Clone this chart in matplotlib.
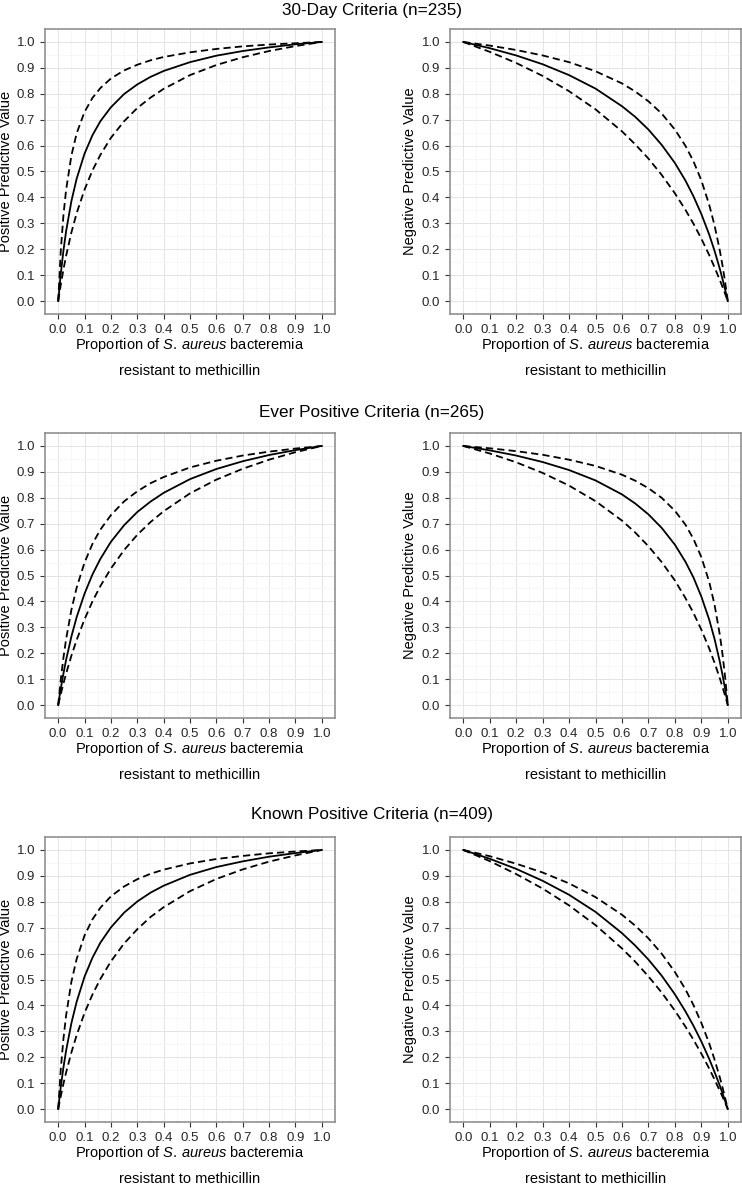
import matplotlib.pyplot as plt

plt.rcParams['font.family'] = ['Liberation Sans', 'DejaVu Sans']
plt.rcParams['mathtext.fontset'] = 'custom'
plt.rcParams['mathtext.rm'] = 'Liberation Sans'
plt.rcParams['mathtext.it'] = 'Liberation Sans:italic'

# proportion resistant (x) at which the curves were read
ppv_x = [0, 0.01, 0.02, 0.03, 0.05, 0.07, 0.1, 0.13, 0.16, 0.2,
         0.25, 0.3, 0.35, 0.4, 0.5, 0.6, 0.7, 0.8, 0.9, 1.0]
npv_x = [0, 0.1, 0.2, 0.3, 0.4, 0.5, 0.6, 0.65, 0.7, 0.75,
         0.8, 0.84, 0.87, 0.9, 0.93, 0.95, 0.97, 0.98, 0.99, 1.0]

# 30-day criteria (n=235)
day30_ppv = [0, 0.107, 0.195, 0.269, 0.385, 0.472, 0.569, 0.640, 0.694, 0.748,
             0.799, 0.836, 0.865, 0.888, 0.922, 0.947, 0.965, 0.979, 0.991, 1.0]
day30_ppv_hi = [0, 0.197, 0.332, 0.429, 0.561, 0.647, 0.730, 0.784, 0.822, 0.859,
                0.890, 0.912, 0.929, 0.942, 0.960, 0.973, 0.983, 0.990, 0.995, 1.0]
day30_ppv_lo = [0, 0.064, 0.122, 0.174, 0.264, 0.339, 0.430, 0.504, 0.564, 0.630,
                0.694, 0.745, 0.785, 0.819, 0.872, 0.911, 0.941, 0.965, 0.984, 1.0]
day30_npv = [1.0, 0.976, 0.948, 0.914, 0.872, 0.820, 0.752, 0.711, 0.662, 0.603,
             0.533, 0.465, 0.405, 0.336, 0.256, 0.194, 0.124, 0.085, 0.044, 0]
day30_npv_hi = [1.0, 0.986, 0.969, 0.948, 0.922, 0.887, 0.840, 0.809, 0.771, 0.724,
                0.662, 0.599, 0.540, 0.466, 0.371, 0.292, 0.195, 0.138, 0.073, 0]
day30_npv_lo = [1.0, 0.962, 0.919, 0.869, 0.810, 0.740, 0.655, 0.605, 0.550, 0.487,
                0.416, 0.352, 0.299, 0.241, 0.177, 0.130, 0.081, 0.055, 0.028, 0]

# ever positive criteria (n=265)
ever_ppv = [0, 0.064, 0.122, 0.174, 0.264, 0.339, 0.430, 0.504, 0.564, 0.630,
            0.694, 0.745, 0.785, 0.819, 0.872, 0.911, 0.941, 0.965, 0.984, 1.0]
ever_ppv_hi = [0, 0.100, 0.183, 0.254, 0.367, 0.453, 0.550, 0.622, 0.677, 0.733,
               0.786, 0.825, 0.856, 0.880, 0.917, 0.943, 0.963, 0.978, 0.990, 1.0]
ever_ppv_lo = [0, 0.043, 0.083, 0.121, 0.190, 0.251, 0.331, 0.400, 0.459, 0.527,
               0.598, 0.657, 0.706, 0.748, 0.817, 0.870, 0.912, 0.947, 0.976, 1.0]
ever_npv = [1.0, 0.983, 0.963, 0.938, 0.907, 0.867, 0.813, 0.778, 0.736, 0.684,
            0.619, 0.553, 0.493, 0.419, 0.329, 0.255, 0.167, 0.117, 0.062, 0]
ever_npv_hi = [1.0, 0.991, 0.980, 0.966, 0.947, 0.923, 0.889, 0.866, 0.837, 0.800,
               0.750, 0.696, 0.642, 0.571, 0.475, 0.387, 0.271, 0.197, 0.108, 0]
ever_npv_lo = [1.0, 0.971, 0.937, 0.896, 0.847, 0.787, 0.712, 0.666, 0.613, 0.552,
               0.481, 0.413, 0.356, 0.291, 0.218, 0.163, 0.103, 0.070, 0.036, 0]

# known positive criteria (n=409)
known_ppv = [0, 0.087, 0.161, 0.225, 0.331, 0.414, 0.511, 0.584, 0.642, 0.701,
             0.758, 0.801, 0.835, 0.862, 0.904, 0.934, 0.956, 0.974, 0.988, 1.0]
known_ppv_hi = [0, 0.156, 0.272, 0.361, 0.491, 0.579, 0.670, 0.732, 0.777, 0.821,
                0.859, 0.887, 0.908, 0.924, 0.948, 0.965, 0.977, 0.987, 0.994, 1.0]
known_ppv_lo = [0, 0.051, 0.098, 0.141, 0.218, 0.285, 0.371, 0.442, 0.502, 0.570,
                0.639, 0.694, 0.741, 0.779, 0.841, 0.888, 0.925, 0.955, 0.979, 1.0]
known_npv = [1.0, 0.966, 0.927, 0.881, 0.827, 0.761, 0.679, 0.631, 0.577, 0.515,
             0.443, 0.377, 0.322, 0.261, 0.193, 0.143, 0.090, 0.061, 0.031, 0]
known_npv_hi = [1.0, 0.976, 0.947, 0.913, 0.871, 0.818, 0.750, 0.708, 0.659, 0.600,
                0.529, 0.462, 0.402, 0.333, 0.253, 0.191, 0.122, 0.084, 0.043, 0]
known_npv_lo = [1.0, 0.957, 0.907, 0.851, 0.786, 0.710, 0.620, 0.569, 0.512, 0.450,
                0.380, 0.318, 0.268, 0.214, 0.156, 0.114, 0.070, 0.048, 0.024, 0]

titles = ['30-Day Criteria (n=235)', 'Ever Positive Criteria (n=265)',
          'Known Positive Criteria (n=409)']
ppv_sets = [(day30_ppv, day30_ppv_hi, day30_ppv_lo),
            (ever_ppv, ever_ppv_hi, ever_ppv_lo),
            (known_ppv, known_ppv_hi, known_ppv_lo)]
npv_sets = [(day30_npv, day30_npv_hi, day30_npv_lo),
            (ever_npv, ever_npv_hi, ever_npv_lo),
            (known_npv, known_npv_hi, known_npv_lo)]

W, H = 742, 1184
fig = plt.figure(figsize=(W / 100, H / 100), dpi=100)

# pixel layout of the rows: (title y, panel top, panel bottom)
rows = [(10, 29, 314), (412, 433, 718), (815, 837, 1122)]
# columns: (panel left, panel right, y-label centre)
cols = [(45, 335, 6), (450, 741, 410)]

major = [i / 10 for i in range(11)]
minor = [0.05 + i / 10 for i in range(10)]
dash = (0, (4.0, 2.3))
xlab = r'Proportion of $\mathit{S.\,aureus}$ bacteremia'


def draw_panel(ax, x, series, ylabel, left, right, top, bottom, ylab_x):
    mid, hi, lo = series
    ax.plot(x, mid, color='black', lw=1.3)
    ax.plot(x, hi, color='black', lw=1.3, ls=dash)
    ax.plot(x, lo, color='black', lw=1.3, ls=dash)
    ax.set_xlim(-0.05, 1.05)
    ax.set_ylim(-0.05, 1.05)
    ax.set_xticks(major)
    ax.set_yticks(major)
    ax.set_xticks(minor, minor=True)
    ax.set_yticks(minor, minor=True)
    ax.set_xticklabels(['%.1f' % v for v in major])
    ax.set_yticklabels(['%.1f' % v for v in major])
    ax.grid(which='major', color='#e4e4e4', lw=0.7)
    ax.grid(which='minor', color='#f4f4f4', lw=0.5)
    ax.set_axisbelow(True)
    for s in ax.spines.values():
        s.set_color('#888888')
        s.set_linewidth(1.1)
    ax.tick_params(which='major', length=3.6, width=0.8, color='#333333',
                   labelsize=9.5, labelcolor='#262626', pad=3.4)
    ax.tick_params(which='minor', length=0)
    cx = (left + right) / 2
    fig.text(cx / W, 1 - (bottom + 31.5) / H, xlab,
             ha='center', va='center', fontsize=10.5)
    fig.text(cx / W, 1 - (bottom + 57) / H, 'resistant to methicillin',
             ha='center', va='center', fontsize=10.5)
    fig.text(ylab_x / W, 1 - (top + bottom) / 2 / H, ylabel, rotation=90,
             ha='center', va='center', fontsize=10.5)


for r, (ty, top, bottom) in enumerate(rows):
    fig.text(372 / W, 1 - ty / H, titles[r], ha='center', va='center',
             fontsize=12.3)
    for c, (left, right, ylab_x) in enumerate(cols):
        ax = fig.add_axes([left / W, 1 - bottom / H, (right - left) / W,
                           (bottom - top) / H])
        if c == 0:
            draw_panel(ax, ppv_x, ppv_sets[r], 'Positive Predictive Value',
                       left, right, top, bottom, ylab_x)
        else:
            draw_panel(ax, npv_x, npv_sets[r], 'Negative Predictive Value',
                       left, right, top, bottom, ylab_x)

fig.savefig('out.png', dpi=100)
